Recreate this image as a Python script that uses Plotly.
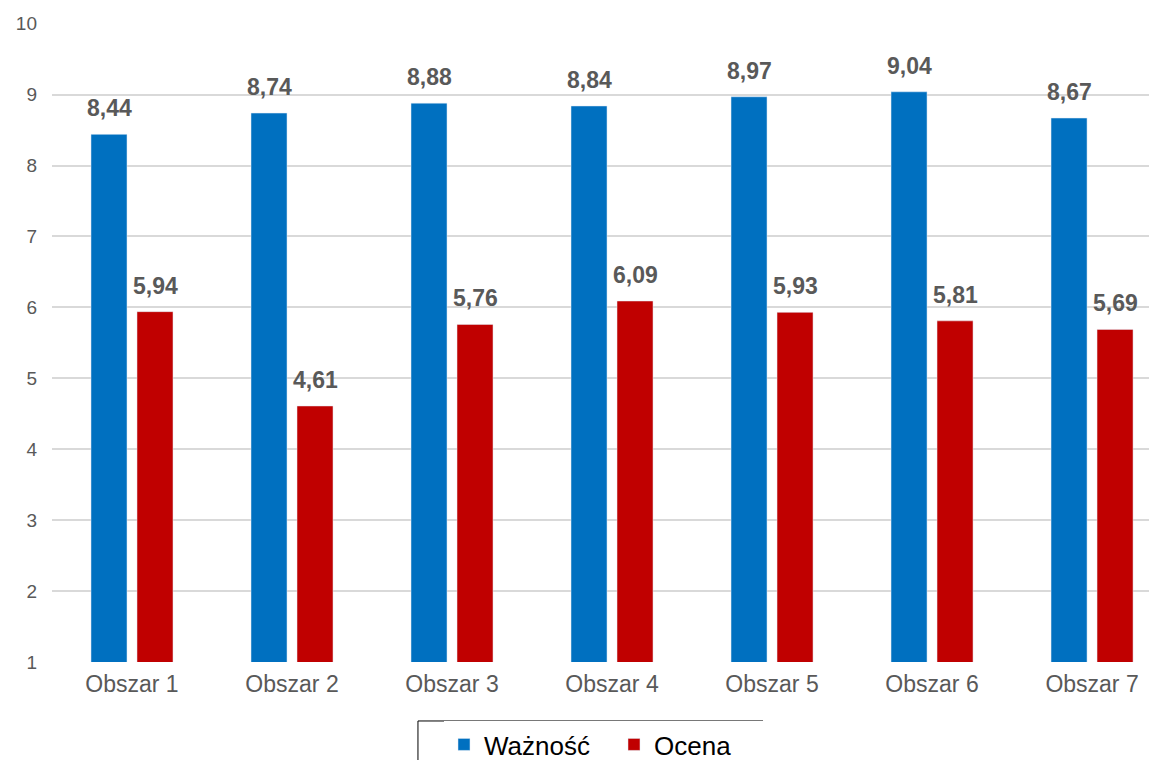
import plotly.graph_objects as go

categories = ["Obszar 1", "Obszar 2", "Obszar 3", "Obszar 4", "Obszar 5", "Obszar 6", "Obszar 7"]
waznosc = [8.44, 8.74, 8.88, 8.84, 8.97, 9.04, 8.67]
ocena = [5.94, 4.61, 5.76, 6.09, 5.93, 5.81, 5.69]
series_names = ["Ważność", "Ocena"]
colors = ["#0070C0", "#C00000"]

def fmt(v):
    return f"{v:.2f}".replace(".", ",")

fig = go.Figure()
fig.add_trace(go.Bar(x=categories, y=waznosc, name=series_names[0], marker_color=colors[0], base=0))
fig.add_trace(go.Bar(x=categories, y=ocena, name=series_names[1], marker_color=colors[1], base=0))

annotations = []
for i, c in enumerate(categories):
    for vals, shift in ((waznosc, -23), (ocena, 23)):
        annotations.append(dict(
            x=c, y=vals[i], xref="x", yref="y", text=fmt(vals[i]),
            showarrow=False, xshift=shift, yshift=11, yanchor="bottom",
            font=dict(family="Liberation Sans, Arial", size=23, color="#595959", weight="bold"),
        ))

fig.update_layout(
    width=1157, height=760,
    margin=dict(l=44, r=0, t=15, b=106),
    paper_bgcolor="white", plot_bgcolor="white",
    barmode="group", bargap=0.425, bargroupgap=0.217,
    font=dict(family="Liberation Sans, Arial", color="#595959"),
    xaxis=dict(range=[-0.5, 6.456], tickfont=dict(size=23, color="#595959"),
               showgrid=False, ticks="", showline=False, zeroline=False, automargin=False,
               ticklabelstandoff=6),
    yaxis=dict(range=[1, 10.01], dtick=1, tick0=0, tickfont=dict(size=19, color="#595959"),
               showgrid=True, gridcolor="#D9D9D9", gridwidth=1.5, zeroline=False,
               showline=False, ticks="", ticklabelstandoff=14, automargin=False),
    legend=dict(orientation="h", x=0.3522, xanchor="left", yref="container", y=0.0618, yanchor="top",
                borderwidth=0, font=dict(size=26, color="#000000"),
                itemwidth=30, entrywidthmode="pixels", entrywidth=125),
    shapes=[dict(type="rect", xref="paper", yref="paper", x0=0.3288, x1=0.6388,
                 y0=-0.0923, y1=-0.3, line=dict(color="#000000", width=1), fillcolor="rgba(0,0,0,0)")],
    annotations=annotations,
    showlegend=True,
)
fig.write_html("out.html")
